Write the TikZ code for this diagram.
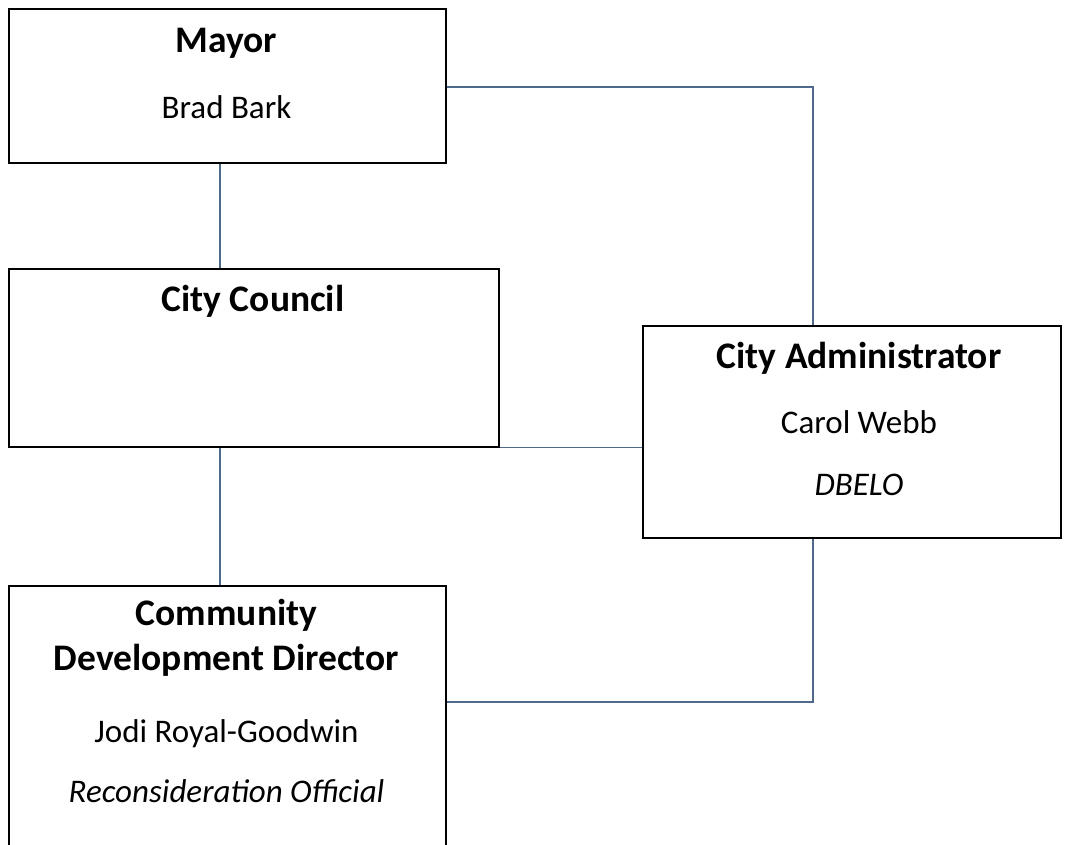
\documentclass[tikz,border=0pt]{standalone}
\usepackage{fontspec}
\setmainfont{Carlito}
\definecolor{conn}{RGB}{79,105,140}
\tikzset{
  box/.style={draw=black, line width=1.5pt, fill=white, inner sep=0pt, anchor=north west},
  connector/.style={draw=conn, line width=1.5pt},
  boxtitle/.style={anchor=base, inner sep=0pt, font=\fontsize{37.5}{45}\selectfont\bfseries},
  boxname/.style={anchor=base, inner sep=0pt, font=\fontsize{33}{40}\selectfont},
  boxrole/.style={anchor=base, inner sep=0pt, font=\fontsize{33}{40}\selectfont\itshape}
}
\begin{document}
\begin{tikzpicture}[x=1pt,y=-1pt]
\useasboundingbox (0,0) rectangle (1068,844);
\clip (0,0) rectangle (1068,844);
\fill[white] (0,0) rectangle (1068,844);
% boxes
\node[box, minimum width=437pt, minimum height=154pt] (mayor) at (8,8) {};
\node[box, minimum width=490pt, minimum height=178pt] (council) at (8,268) {};
\node[box, minimum width=418pt, minimum height=212pt] (admin) at (642,325) {};
\node[box, minimum width=437pt, minimum height=300pt] (cdd) at (8,585) {};
% connector coordinates
\coordinate (lx) at (220,0);
\coordinate (rtop) at (813,87);
\coordinate (rbot) at (813,702);
% connectors
\draw[connector] (mayor.south -| lx) -- (council.north -| lx);
\draw[connector] (mayor.east |- rtop) -- (rtop) -- (admin.north -| rtop);
\draw[connector] (council.south east) -- (admin.west |- council.south east);
\draw[connector] (council.south -| lx) -- (cdd.north -| lx);
\draw[connector] (admin.south -| rbot) -- (rbot) -- (cdd.east |- rbot);
% texts
\node[boxtitle] (t1) at (226.5,52) {Mayor};
\node[boxname] (n1) at (226.5,118) {Brad Bark};
\node[boxtitle] (t2) at (253,311) {City Council};
\node[boxtitle] (t3) at (859,368) {City Administrator};
\node[boxname] (n3) at (859,433) {Carol Webb};
\node[boxrole] (r3) at (859,495) {DBELO};
\node[boxtitle] (t4a) at (226.5,625) {Community};
\node[boxtitle] (t4b) at (226.5,670) {Development Director};
\node[boxname] (n4) at (226.5,742) {Jodi Royal-Goodwin};
\node[boxrole] (r4) at (226.5,802) {Reconsideration Official};
\end{tikzpicture}
\end{document}
